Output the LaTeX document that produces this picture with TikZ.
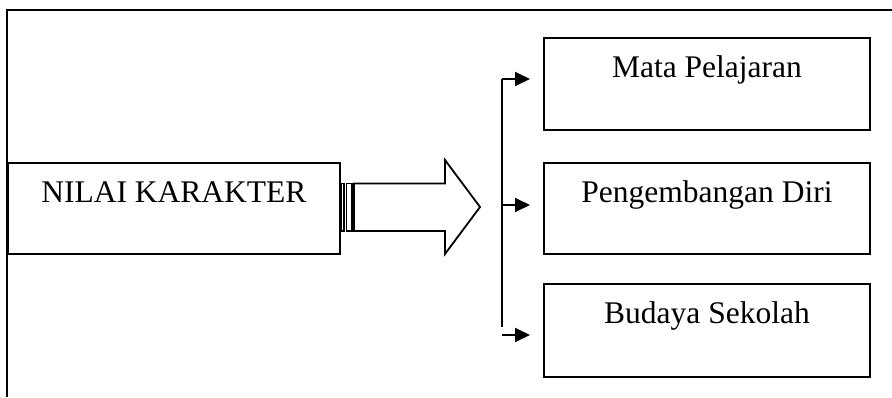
\documentclass[tikz,border=0pt]{standalone}
\usepackage{fontspec}
\setmainfont{Liberation Serif}
\usetikzlibrary{arrows.meta}
\begin{document}
\begin{tikzpicture}[x=1pt,y=-1pt,
  boxstyle/.style={draw,line width=1.9pt,rectangle,inner sep=0pt,anchor=north west},
  labstyle/.style={anchor=base,inner sep=0pt,font=\fontsize{31.5}{36}\selectfont},
  conn/.style={line width=1.9pt,-{Triangle[length=15pt,width=14pt]}},
  framestyle/.style={line width=2pt}]
\useasboundingbox (0,0) rectangle (892,397);
% outer frame (top and left only visible)
\draw[framestyle] (7,397) -- (7,10) -- (892,10);
% left box
\node[boxstyle,minimum width=332pt,minimum height=91pt] (nk) at (7,162) {};
\node[labstyle] (nkt) at ([yshift=-40pt]nk.north) {NILAI KARAKTER};
% right boxes
\node[boxstyle,minimum width=326pt,minimum height=92pt] (mp) at (543,37) {};
\node[labstyle] (mpt) at ([yshift=-40pt]mp.north) {Mata Pelajaran};
\node[boxstyle,minimum width=326pt,minimum height=91pt] (pd) at (543,162) {};
\node[labstyle] (pdt) at ([yshift=-40pt]pd.north) {Pengembangan Diri};
\node[boxstyle,minimum width=326pt,minimum height=93pt] (bs) at (543,283) {};
\node[labstyle] (bst) at ([yshift=-40pt]bs.north) {Budaya Sekolah};
% striped block arrow
\draw[line width=1.7pt,fill=white] (341,183.5) rectangle (344,231);
\draw[line width=1.7pt,fill=white] (346.5,183.5) rectangle (352,231);
\draw[line width=1.8pt,line join=miter] (354,183.5) -- (445,183.5) -- (445,160) -- (480,207) -- (445,254) -- (445,231) -- (354,231) -- cycle;
% bracket and arrows
\coordinate (c1) at (502,79);
\coordinate (c2) at (502,205);
\coordinate (c3) at (502,335);
\coordinate (cb) at (502,327);
\draw[line width=1.9pt] (cb) -- (c1);
\draw[conn,shorten >=13pt] (c1) -- (c1 -| mp.west);
\draw[conn,shorten >=13pt] (c2) -- (c2 -| pd.west);
\draw[conn,shorten >=13pt] (c3) -- (c3 -| bs.west);
\end{tikzpicture}
\end{document}
